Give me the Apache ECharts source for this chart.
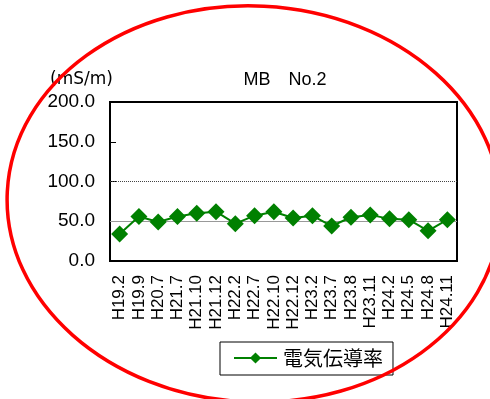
<!DOCTYPE html>
<html><head><meta charset="utf-8">
<script src="https://cdn.jsdelivr.net/npm/echarts@6/dist/echarts.min.js"></script>
<style>html,body{margin:0;padding:0;background:#fff}#c{width:490px;height:399px}</style>
</head><body><div id="c"></div>
<script>
const categories = ['H19.2','H19.9','H20.7','H21.7','H21.10','H21.12','H22.2','H22.7','H22.10','H22.12','H23.2','H23.7','H23.8','H23.11','H24.2','H24.5','H24.8','H24.11'];
const conductivity = [34, 56, 49, 56, 60, 62, 47, 57, 62, 54, 57, 44, 55, 58, 53, 52, 38, 52];
const yTicks = [0, 50, 100, 150, 200];
const seriesName = '電気伝導率';
const titleText = 'MB　No.2';
const unitText = '(mS/m)';

const chart = echarts.init(document.getElementById('c'), null, {renderer: 'canvas'});
chart.setOption({
  animation: false,
  backgroundColor: '#fff',
  title: {
    text: titleText, left: 280, textAlign: 'center', top: 66,
    textStyle: {fontFamily: 'Liberation Sans, Noto Sans CJK JP', fontSize: 18, fontWeight: 'normal', color: '#000'}
  },
  grid: {left: 110, top: 102, right: 33, bottom: 138, show: true, borderColor: '#000', borderWidth: 2, containLabel: false},
  legend: {
    left: 220, top: 342, width: 175,
    data: [seriesName],
    itemWidth: 43, itemHeight: 14, itemGap: 6,
    borderColor: '#000', borderWidth: 1, padding: [6, 10, 7, 13],
    textStyle: {fontFamily: 'Noto Sans CJK JP', fontSize: 20, color: '#000', padding: [0, 0, 0, 1]}
  },
  xAxis: {
    type: 'category', data: categories, boundaryGap: true,
    axisLine: {lineStyle: {color: '#000', width: 2}},
    axisTick: {inside: true, length: 6, alignWithLabel: false, lineStyle: {color: '#000', width: 1}},
    axisLabel: {rotate: 90, margin: 14, interval: 0, fontFamily: 'Liberation Sans', fontSize: 17, color: '#000'}
  },
  yAxis: {
    type: 'value', min: 0, max: 200, interval: 50,
    name: unitText, nameLocation: 'end', nameGap: 14,
    nameTextStyle: {fontFamily: 'DejaVu Sans', fontSize: 17, color: '#000', align: 'right', padding: [0, -3, 0, 0]},
    axisLine: {show: true, lineStyle: {color: '#000', width: 2}},
    axisTick: {show: true, inside: true, length: 6, lineStyle: {color: '#000'}},
    splitLine: {show: false},
    axisLabel: {margin: 15, fontFamily: 'Liberation Sans', fontSize: 19, color: '#000', formatter: v => v.toFixed(1)}
  },
  series: [{
    name: seriesName, type: 'line', data: conductivity,
    symbol: 'diamond', symbolSize: 17,
    lineStyle: {color: '#008000', width: 2},
    itemStyle: {color: '#008000'},
    markLine: {
      silent: true, symbol: 'none', label: {show: false},
      data: [
        {yAxis: yTicks[2], lineStyle: {color: '#444', type: 'dotted', width: 1}},
        {yAxis: yTicks[1], lineStyle: {color: '#999', type: 'solid', width: 1}}
      ]
    },
    z: 5
  }],
  graphic: [{
    type: 'ellipse', z: 100, silent: true,
    x: 254, y: 204, rotation: -0.05,
    shape: {cx: 0, cy: 0, rx: 247, ry: 198},
    style: {fill: 'none', stroke: '#ff0000', lineWidth: 3.5}
  }]
});
</script></body></html>
